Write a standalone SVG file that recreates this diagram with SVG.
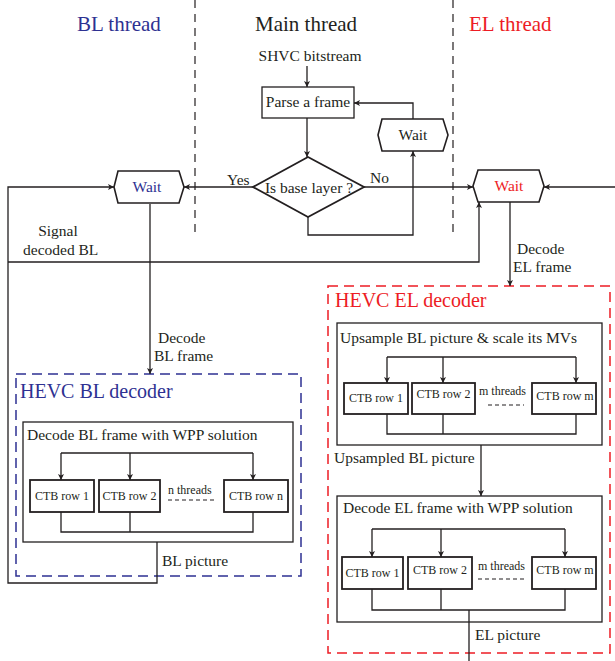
<svg xmlns="http://www.w3.org/2000/svg" width="615" height="661" viewBox="0 0 615 661" font-family="'Liberation Serif', 'DejaVu Serif', serif">
<defs>
<marker id="ah" viewBox="0 0 8 8" refX="8" refY="4" markerWidth="6" markerHeight="6" markerUnits="userSpaceOnUse" orient="auto">
<path d="M0,0 L8,4 L0,8 L2,4 Z" fill="#231f20"/>
</marker>
<style>
text{font-family:'Liberation Serif','DejaVu Serif',serif;fill:#231f20}
.t{font-size:15.5px}
.title{font-size:21px}
.hd{font-size:20px}
.s{font-size:12px}
.blue{fill:#2e3192}
.red{fill:#ed1c24}
.box{fill:#fff;stroke:#231f20;stroke-width:1.3}
.ctb{fill:#fff;stroke:#231f20;stroke-width:1.8}
.hex{fill:#fff;stroke:#231f20;stroke-width:1.6}
.c{fill:none;stroke:#231f20;stroke-width:1.3}
.ca{fill:none;stroke:#231f20;stroke-width:1.3;marker-end:url(#ah)}
.sep{stroke:#231f20;stroke-width:1.2;stroke-dasharray:8 6}
.dots{stroke:#231f20;stroke-width:1.2;stroke-dasharray:4 3}
.mid{text-anchor:middle}
</style>
</defs>

<g id="separators">
<line class="sep" x1="195" y1="0" x2="195" y2="236"/>
<line class="sep" x1="453" y1="0" x2="453" y2="236"/>
</g>

<g id="titles">
<text class="title blue" x="77" y="31">BL thread</text>
<text class="title" x="255" y="31">Main thread</text>
<text class="title red" x="469" y="31">EL thread</text>
<text class="t mid" x="310" y="61">SHVC bitstream</text>
</g>

<g id="bl-decoder-frame">
<rect x="16" y="374" width="285" height="202" fill="none" stroke="#2e3192" stroke-width="1.5" stroke-dasharray="10 6"/>
<text class="hd blue" x="20" y="398">HEVC BL decoder</text>
</g>

<g id="el-decoder-frame">
<rect x="328" y="286" width="282" height="367" fill="none" stroke="#ed1c24" stroke-width="1.5" stroke-dasharray="10 6"/>
<text class="hd red" x="335" y="307">HEVC EL decoder</text>
</g>

<g id="parse">
<rect class="box" x="262" y="87" width="92" height="31"/>
<text class="t mid" x="308" y="107">Parse a frame</text>
</g>

<g id="decision">
<polygon points="308,157 364,187 308,217 253,187" fill="#fff" stroke="#231f20" stroke-width="1.8"/>
<text class="t mid" x="309" y="193">Is base layer ?</text>
<text class="t" x="227" y="185">Yes</text>
<text class="t" x="370" y="183">No</text>
</g>

<g id="main-wait">
<polygon class="hex" points="378,135 382,119 443,119 448,135 443,151 382,151"/>
<text class="t mid" x="413" y="140">Wait</text>
</g>

<g id="bl-wait">
<polygon class="hex" points="114,187 118,171 179,171 184,187 179,203 118,203"/>
<text class="t mid blue" x="147" y="192">Wait</text>
</g>

<g id="el-wait">
<polygon class="hex" points="473,186 478,170 539,170 544,186 539,202 478,202"/>
<text class="t mid red" x="509" y="191">Wait</text>
</g>

<g id="labels">
<text class="t mid" x="58" y="236">Signal</text>
<text class="t" x="23" y="255">decoded BL</text>
<text class="t" x="517" y="254">Decode</text>
<text class="t" x="513" y="272">EL frame</text>
<text class="t" x="158" y="343">Decode</text>
<text class="t" x="154" y="361">BL frame</text>
<text class="t" x="162" y="566">BL picture</text>
<text class="t" x="334" y="463">Upsampled BL picture</text>
<text class="t" x="475" y="640">EL picture</text>
</g>

<g id="bl-wpp">
<rect class="box" x="23" y="422" width="270" height="120"/>
<text class="t" x="27" y="440">Decode BL frame with WPP solution</text>
</g>
<g id="bl-ctb1">
<rect class="ctb" x="30" y="480" width="64" height="32"/>
<text class="s mid" x="62" y="500">CTB row 1</text>
</g>
<g id="bl-ctb2">
<rect class="ctb" x="99" y="480" width="61" height="32"/>
<text class="s mid" x="129.5" y="500">CTB row 2</text>
</g>
<g id="bl-ctbn">
<rect class="ctb" x="224" y="480" width="64" height="32"/>
<text class="s mid" x="256" y="500">CTB row n</text>
</g>
<g id="bl-threads">
<text class="s" x="168" y="494">n threads</text>
<line class="dots" x1="168" y1="500" x2="217" y2="500"/>
</g>

<g id="el-upsample">
<rect class="box" x="337" y="323" width="265" height="122"/>
<text class="t" x="340" y="343">Upsample BL picture &amp; scale its MVs</text>
</g>
<g id="up-ctb1">
<rect class="ctb" x="344" y="383" width="64" height="31"/>
<text class="s mid" x="376" y="402">CTB row 1</text>
</g>
<g id="up-ctb2">
<rect class="ctb" x="412" y="383" width="63" height="31"/>
<text class="s mid" x="443.5" y="398">CTB row 2</text>
</g>
<g id="up-ctbm">
<rect class="ctb" x="532" y="383" width="64" height="31"/>
<text class="s mid" x="565" y="400">CTB row m</text>
</g>
<g id="up-threads">
<text class="s" x="479" y="395">m threads</text>
<line class="dots" x1="488" y1="405" x2="524" y2="405"/>
</g>

<g id="el-wpp">
<rect class="box" x="337" y="496" width="265" height="126"/>
<text class="t" x="343" y="513">Decode EL frame with WPP solution</text>
</g>
<g id="el-ctb1">
<rect class="ctb" x="342" y="557" width="61" height="32"/>
<text class="s mid" x="372.5" y="577">CTB row 1</text>
</g>
<g id="el-ctb2">
<rect class="ctb" x="408" y="557" width="64" height="32"/>
<text class="s mid" x="440" y="574">CTB row 2</text>
</g>
<g id="el-ctbm">
<rect class="ctb" x="532" y="557" width="64" height="32"/>
<text class="s mid" x="565" y="574">CTB row m</text>
</g>
<g id="el-threads">
<text class="s" x="478" y="570">m threads</text>
<line class="dots" x1="478" y1="579" x2="527" y2="579"/>
</g>

<g id="connectors">
<path class="ca" d="M307,66 V87"/>
<path class="ca" d="M307,118 V157"/>
<path class="ca" d="M253,187 H184"/>
<path class="ca" d="M364,187 H473"/>
<path class="ca" d="M308,217 V235 H413 V151"/>
<path class="ca" d="M413,119 V103 H354"/>
<path class="ca" d="M615,187 H544"/>
<path class="ca" d="M510,202 V286"/>
<path class="ca" d="M150,204 V374"/>
<path class="ca" d="M157,542 V583 H8 V187 H114"/>
<path class="ca" d="M8,262 H479 V202"/>
<path class="c" d="M61,453 H253"/>
<path class="ca" d="M61,453 V480"/>
<path class="ca" d="M130,453 V480"/>
<path class="ca" d="M253,453 V480"/>
<path class="c" d="M61,512 V532 H253 V512 M130,512 V532"/>
<path class="c" d="M387,357 H576"/>
<path class="ca" d="M387,357 V383"/>
<path class="ca" d="M443,357 V383"/>
<path class="ca" d="M576,357 V383"/>
<path class="c" d="M387,414 V434 H576 V414 M443,414 V434"/>
<path class="ca" d="M481,445 V496"/>
<path class="c" d="M372,529 H565"/>
<path class="ca" d="M372,529 V557"/>
<path class="ca" d="M441,529 V557"/>
<path class="ca" d="M565,529 V557"/>
<path class="c" d="M372,589 V610 H565 V589 M441,589 V610 M469,610 V661"/>
</g>
</svg>
